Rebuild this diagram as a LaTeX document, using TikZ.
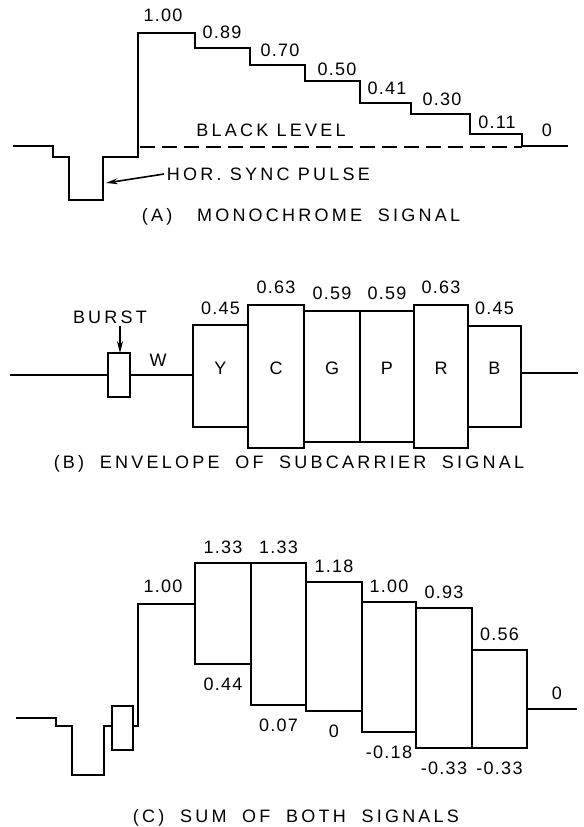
\documentclass[tikz,border=0pt]{standalone}
\usepackage{fontspec}
\setmainfont{Liberation Sans}[LetterSpace=18]
\newfontfamily\numfont{Liberation Sans}[LetterSpace=7]
\newfontfamily\capfont{Liberation Sans}[LetterSpace=18,WordSpace=1.9]
\usetikzlibrary{arrows.meta}

\begin{document}
\begin{tikzpicture}[x=0.5pt,y=-0.5pt,line width=1pt,
    lbl/.style={font=\fontsize{9}{10}\selectfont,inner sep=1pt},
    num/.style={font=\fontsize{9}{10}\selectfont\numfont,inner sep=1pt},
    caption/.style={font=\fontsize{9}{10}\selectfont\capfont,inner sep=1pt},
    pointer/.style={-{Stealth[length=6pt,width=3pt]},line width=0.8pt}]
  \useasboundingbox (0,0) rectangle (584,827);

  % (A) monochrome signal
  \draw (13,146) -- (53,146) -- (53,157) -- (69,157) -- (69,200) -- (103,200) -- (103,157)
    -- (138,157) -- (138,33) -- (195,33) -- (195,48) -- (250,48) -- (250,65) -- (305,65)
    -- (305,81) -- (360,81) -- (360,103) -- (411,103) -- (411,114) -- (470,114)
    -- (470,134) -- (522,134) -- (522,146) -- (568,146);
  \draw[dash pattern=on 7.5pt off 3.5pt] (140,147) -- (522,147); % black level
  \foreach \x/\y/\v [count=\i] in {163/15/1.00, 222/32/0.89, 280/50/0.70, 337/69/0.50,
      387/88/0.41, 442/99/0.30, 497/122/0.11, 547/130/0}
    \node[num] (lum\i) at (\x,\y) {\v};
  \node[lbl] (black) at (271,130) {BLACK LEVEL};
  \node[lbl,anchor=west] (sync) at (164,174) {HOR. SYNC PULSE};
  \coordinate (syncedge) at (106,183);
  \draw[pointer] (sync.west) -- (syncedge);
  \node[caption] (capA) at (301,217) {(A)\enspace\ MONOCHROME SIGNAL};

  % (B) envelope of subcarrier
  \draw (10,375) -- (108,375);
  \draw (108,353) rectangle (130,397);
  \draw (130,375) -- (193,375);
  \foreach \xa/\xb/\h/\c/\v in {193/248/51/Y/0.45, 248/304/71.5/C/0.63, 304/360/65.5/G/0.59,
      360/414/65.5/P/0.59, 414/468/71.5/R/0.63, 468/521/50.5/B/0.45} {
    \draw (\xa,376-\h) rectangle (\xb,376+\h);
    \node[lbl] (hue\c) at ({(\xa+\xb)/2},368) {\c};
    \node[num] (amp\c) at ({(\xa+\xb)/2},{376-\h-17}) {\v};
  }
  \draw (521,373) -- (578,373);
  \node[lbl] (burst) at (110,317) {BURST};
  \coordinate (burstbox) at (120,353);
  \draw[pointer] (burst.south -| burstbox) -- (burstbox);
  \node[lbl] (white) at (158,360) {W};
  \node[caption] (capB) at (289,464) {(B) ENVELOPE OF SUBCARRIER SIGNAL};

  % (C) sum of both
  \draw (16,718) -- (56,718) -- (56,726) -- (72,726) -- (72,775) -- (104,775) -- (104,726)
    -- (112,726);
  \draw (112,706) rectangle (133,750);
  \draw (133,726) -- (138,726) -- (138,604) -- (195,604);
  \foreach \xa/\xb/\t/\b/\vt/\vb [count=\i] in {195/251/563/664/1.33/0.44,
      251/306/563/705/1.33/0.07, 306/362/582/711/1.18/0, 362/416/602/732/1.00/-0.18,
      416/472/608/748/0.93/-0.33, 472/527/650/748/0.56/-0.33} {
    \draw (\xa,\t) rectangle (\xb,\b);
    \node[num] (top\i) at ({(\xa+\xb)/2},\t-16) {\vt};
    \node[num] (bot\i) at ({(\xa+\xb)/2},\b+20) {\vb};
  }
  \draw (527,709) -- (577,709);
  \node[num] (sum0) at (163,586) {1.00};
  \node[num] (sum7) at (557,693) {0};
  \node[caption] (capC) at (296,818) {(C) SUM OF BOTH SIGNALS};
\end{tikzpicture}
\end{document}
